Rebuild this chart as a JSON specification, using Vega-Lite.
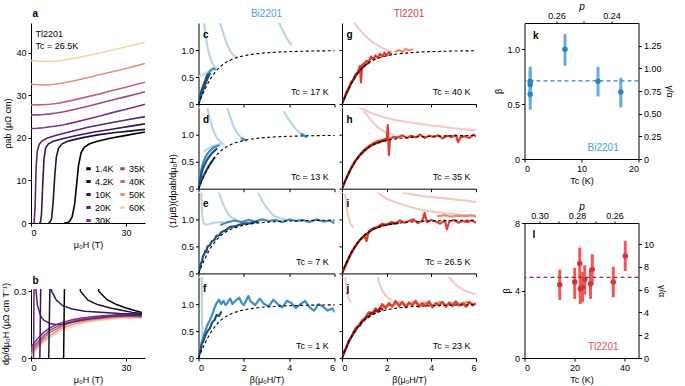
{
"$schema":"https://vega.github.io/schema/vega-lite/v6.json",
"padding":{"left":1,"top":0,"right":2,"bottom":0},
"config":{"font":"Liberation Sans","view":{"stroke":null},
"axis":{"grid":false,"domainColor":"#000","tickColor":"#000","labelColor":"#000","titleColor":"#000","labelFontSize":9,"titleFontSize":9,"titleFontWeight":"normal","tickSize":3,"labelPadding":2,"titlePadding":3,"domainWidth":1,"tickWidth":1},
"text":{"font":"Liberation Sans"},"title":{"font":"Liberation Sans"}},
"datasets":{
"rho":[
{"T":"60K","H":0,"rho":38.2},{"T":"60K","H":2,"rho":38.05},{"T":"60K","H":4,"rho":37.95},{"T":"60K","H":6,"rho":37.95},{"T":"60K","H":8,"rho":38.05},{"T":"60K","H":10,"rho":38.25},{"T":"60K","H":14,"rho":38.75},{"T":"60K","H":18,"rho":39.35},{"T":"60K","H":22,"rho":40.0},{"T":"60K","H":26,"rho":40.7},{"T":"60K","H":30,"rho":41.4},{"T":"60K","H":34,"rho":42.1},{"T":"60K","H":36,"rho":42.5},
{"T":"50K","H":0,"rho":32.6},{"T":"50K","H":2,"rho":32.5},{"T":"50K","H":4,"rho":32.45},{"T":"50K","H":6,"rho":32.5},{"T":"50K","H":8,"rho":32.65},{"T":"50K","H":10,"rho":32.9},{"T":"50K","H":14,"rho":33.5},{"T":"50K","H":18,"rho":34.2},{"T":"50K","H":22,"rho":34.9},{"T":"50K","H":26,"rho":35.6},{"T":"50K","H":30,"rho":36.3},{"T":"50K","H":34,"rho":37.1},{"T":"50K","H":36,"rho":37.5},
{"T":"40K","H":0,"rho":27.8},{"T":"40K","H":2,"rho":27.75},{"T":"40K","H":4,"rho":27.8},{"T":"40K","H":6,"rho":27.9},{"T":"40K","H":8,"rho":28.1},{"T":"40K","H":10,"rho":28.35},{"T":"40K","H":14,"rho":29.0},{"T":"40K","H":18,"rho":29.7},{"T":"40K","H":22,"rho":30.4},{"T":"40K","H":26,"rho":31.2},{"T":"40K","H":30,"rho":31.9},{"T":"40K","H":34,"rho":32.7},{"T":"40K","H":36,"rho":33.1},
{"T":"35K","H":0,"rho":25.4},{"T":"35K","H":2,"rho":25.4},{"T":"35K","H":4,"rho":25.5},{"T":"35K","H":6,"rho":25.65},{"T":"35K","H":8,"rho":25.85},{"T":"35K","H":10,"rho":26.1},{"T":"35K","H":14,"rho":26.75},{"T":"35K","H":18,"rho":27.45},{"T":"35K","H":22,"rho":28.2},{"T":"35K","H":26,"rho":28.95},{"T":"35K","H":30,"rho":29.7},{"T":"35K","H":34,"rho":30.45},{"T":"35K","H":36,"rho":30.85},
{"T":"30K","H":0,"rho":22.2},{"T":"30K","H":2,"rho":22.25},{"T":"30K","H":4,"rho":22.4},{"T":"30K","H":6,"rho":22.6},{"T":"30K","H":8,"rho":22.8},{"T":"30K","H":10,"rho":23.05},{"T":"30K","H":14,"rho":23.7},{"T":"30K","H":18,"rho":24.45},{"T":"30K","H":22,"rho":25.2},{"T":"30K","H":26,"rho":26.0},{"T":"30K","H":30,"rho":26.75},{"T":"30K","H":34,"rho":27.5},{"T":"30K","H":36,"rho":27.9},
{"T":"20K","H":0.8,"rho":0},{"T":"20K","H":1.0,"rho":0.2},{"T":"20K","H":1.3,"rho":4},{"T":"20K","H":1.6,"rho":13},{"T":"20K","H":2.0,"rho":17},{"T":"20K","H":2.6,"rho":18.5},{"T":"20K","H":3.5,"rho":19.3},{"T":"20K","H":5,"rho":19.9},{"T":"20K","H":8,"rho":20.6},{"T":"20K","H":12,"rho":21.4},{"T":"20K","H":18,"rho":22.5},{"T":"20K","H":24,"rho":23.4},{"T":"20K","H":30,"rho":24.2},{"T":"20K","H":36,"rho":25.0},
{"T":"10K","H":2.6,"rho":0},{"T":"10K","H":3.0,"rho":0.2},{"T":"10K","H":3.3,"rho":2},{"T":"10K","H":3.7,"rho":9},{"T":"10K","H":4.1,"rho":15},{"T":"10K","H":4.6,"rho":17.6},{"T":"10K","H":5.5,"rho":18.6},{"T":"10K","H":7,"rho":19.2},{"T":"10K","H":10,"rho":19.8},{"T":"10K","H":14,"rho":20.5},{"T":"10K","H":20,"rho":21.4},{"T":"10K","H":26,"rho":22.1},{"T":"10K","H":31,"rho":22.7},{"T":"10K","H":36,"rho":23.3},
{"T":"4.2K","H":5.5,"rho":0},{"T":"4.2K","H":6.0,"rho":0.2},{"T":"4.2K","H":6.5,"rho":1},{"T":"4.2K","H":7.0,"rho":5},{"T":"4.2K","H":7.5,"rho":11},{"T":"4.2K","H":8.0,"rho":15.5},{"T":"4.2K","H":8.7,"rho":17.6},{"T":"4.2K","H":9.8,"rho":18.6},{"T":"4.2K","H":12,"rho":19.3},{"T":"4.2K","H":16,"rho":20.0},{"T":"4.2K","H":21,"rho":20.7},{"T":"4.2K","H":26,"rho":21.2},{"T":"4.2K","H":31,"rho":21.6},{"T":"4.2K","H":36,"rho":22.0},
{"T":"1.4K","H":10.5,"rho":0},{"T":"1.4K","H":11.5,"rho":0.1},{"T":"1.4K","H":12.3,"rho":0.5},{"T":"1.4K","H":13.0,"rho":1.5},{"T":"1.4K","H":13.8,"rho":4.5},{"T":"1.4K","H":14.4,"rho":9},{"T":"1.4K","H":15.0,"rho":13.5},{"T":"1.4K","H":15.8,"rho":16.5},{"T":"1.4K","H":16.8,"rho":17.8},{"T":"1.4K","H":18.5,"rho":18.6},{"T":"1.4K","H":21,"rho":19.2},{"T":"1.4K","H":25,"rho":19.9},{"T":"1.4K","H":30,"rho":20.6},{"T":"1.4K","H":36,"rho":21.4}
],
"drho":[
{"T":"60K","H":0,"d":0.01},{"T":"60K","H":2,"d":0.04},{"T":"60K","H":4,"d":0.07},{"T":"60K","H":6,"d":0.09},{"T":"60K","H":8,"d":0.11},{"T":"60K","H":10,"d":0.125},{"T":"60K","H":13,"d":0.14},{"T":"60K","H":16,"d":0.155},{"T":"60K","H":20,"d":0.165},{"T":"60K","H":24,"d":0.172},{"T":"60K","H":28,"d":0.178},{"T":"60K","H":32,"d":0.18},{"T":"60K","H":35,"d":0.178},
{"T":"50K","H":0,"d":0.02},{"T":"50K","H":2,"d":0.05},{"T":"50K","H":4,"d":0.08},{"T":"50K","H":6,"d":0.1},{"T":"50K","H":8,"d":0.12},{"T":"50K","H":10,"d":0.135},{"T":"50K","H":13,"d":0.15},{"T":"50K","H":16,"d":0.162},{"T":"50K","H":20,"d":0.172},{"T":"50K","H":24,"d":0.178},{"T":"50K","H":28,"d":0.183},{"T":"50K","H":32,"d":0.185},{"T":"50K","H":35,"d":0.182},
{"T":"40K","H":0,"d":0.03},{"T":"40K","H":2,"d":0.06},{"T":"40K","H":4,"d":0.09},{"T":"40K","H":6,"d":0.115},{"T":"40K","H":8,"d":0.13},{"T":"40K","H":10,"d":0.145},{"T":"40K","H":13,"d":0.16},{"T":"40K","H":16,"d":0.17},{"T":"40K","H":20,"d":0.178},{"T":"40K","H":24,"d":0.184},{"T":"40K","H":28,"d":0.188},{"T":"40K","H":32,"d":0.189},{"T":"40K","H":35,"d":0.186},
{"T":"35K","H":0,"d":0.04},{"T":"35K","H":2,"d":0.07},{"T":"35K","H":4,"d":0.1},{"T":"35K","H":6,"d":0.125},{"T":"35K","H":8,"d":0.14},{"T":"35K","H":10,"d":0.152},{"T":"35K","H":13,"d":0.165},{"T":"35K","H":16,"d":0.175},{"T":"35K","H":20,"d":0.183},{"T":"35K","H":24,"d":0.188},{"T":"35K","H":28,"d":0.192},{"T":"35K","H":32,"d":0.193},{"T":"35K","H":35,"d":0.19},
{"T":"30K","H":0,"d":0.05},{"T":"30K","H":2,"d":0.085},{"T":"30K","H":4,"d":0.115},{"T":"30K","H":6,"d":0.135},{"T":"30K","H":8,"d":0.15},{"T":"30K","H":10,"d":0.16},{"T":"30K","H":13,"d":0.172},{"T":"30K","H":16,"d":0.18},{"T":"30K","H":20,"d":0.187},{"T":"30K","H":24,"d":0.191},{"T":"30K","H":28,"d":0.195},{"T":"30K","H":32,"d":0.196},{"T":"30K","H":35,"d":0.193},
{"T":"20K","H":0.8,"d":0},{"T":"20K","H":1.1,"d":0.6},{"T":"20K","H":1.4,"d":0.6},{"T":"20K","H":1.6,"d":0.3},{"T":"20K","H":2,"d":0.24},{"T":"20K","H":3,"d":0.19},{"T":"20K","H":4,"d":0.17},{"T":"20K","H":6,"d":0.155},{"T":"20K","H":8,"d":0.15},{"T":"20K","H":10,"d":0.152},{"T":"20K","H":13,"d":0.16},{"T":"20K","H":16,"d":0.17},{"T":"20K","H":20,"d":0.178},{"T":"20K","H":25,"d":0.186},{"T":"20K","H":30,"d":0.19},{"T":"20K","H":35,"d":0.19},
{"T":"10K","H":2.8,"d":0},{"T":"10K","H":3.3,"d":0.6},{"T":"10K","H":4.5,"d":0.6},{"T":"10K","H":6.5,"d":0.3},{"T":"10K","H":8,"d":0.26},{"T":"10K","H":10,"d":0.235},{"T":"10K","H":13,"d":0.22},{"T":"10K","H":17,"d":0.21},{"T":"10K","H":22,"d":0.205},{"T":"10K","H":28,"d":0.2},{"T":"10K","H":35,"d":0.197},
{"T":"4.2K","H":5.6,"d":0},{"T":"4.2K","H":6.3,"d":0.6},{"T":"4.2K","H":14,"d":0.6},{"T":"4.2K","H":15.6,"d":0.3},{"T":"4.2K","H":18,"d":0.26},{"T":"4.2K","H":21,"d":0.24},{"T":"4.2K","H":25,"d":0.225},{"T":"4.2K","H":29,"d":0.213},{"T":"4.2K","H":32,"d":0.205},{"T":"4.2K","H":35,"d":0.2},
{"T":"1.4K","H":10.3,"d":0},{"T":"1.4K","H":10.8,"d":0.6},{"T":"1.4K","H":20,"d":0.6},{"T":"1.4K","H":21.4,"d":0.3},{"T":"1.4K","H":24,"d":0.262},{"T":"1.4K","H":27,"d":0.24},{"T":"1.4K","H":30,"d":0.225},{"T":"1.4K","H":33,"d":0.212},{"T":"1.4K","H":35,"d":0.205}
],
"fit":[{"x":0,"y":0},{"x":0.1,"y":0.0995},{"x":0.2,"y":0.196},{"x":0.3,"y":0.287},{"x":0.4,"y":0.371},{"x":0.5,"y":0.447},{"x":0.6,"y":0.514},{"x":0.8,"y":0.625},{"x":1.0,"y":0.707},{"x":1.2,"y":0.768},{"x":1.5,"y":0.832},{"x":1.8,"y":0.874},{"x":2.2,"y":0.91},{"x":2.6,"y":0.933},{"x":3.0,"y":0.949},{"x":3.5,"y":0.962},{"x":4.0,"y":0.97},{"x":4.5,"y":0.976},{"x":5.0,"y":0.981},{"x":5.5,"y":0.984},{"x":6.0,"y":0.986}],
"scal":[
{"panel":"c","s":"l1","sh":"bl","x":0.25,"y":1.5},{"panel":"c","s":"l1","sh":"bl","x":0.32,"y":1.25},{"panel":"c","s":"l1","sh":"bl","x":0.4,"y":1.05},{"panel":"c","s":"l1","sh":"bl","x":0.5,"y":0.88},{"panel":"c","s":"l1","sh":"bl","x":0.62,"y":0.75},{"panel":"c","s":"l1","sh":"bl","x":0.75,"y":0.66},
{"panel":"c","s":"l2","sh":"bl","x":0.95,"y":1.5},{"panel":"c","s":"l2","sh":"bl","x":1.1,"y":1.3},{"panel":"c","s":"l2","sh":"bl","x":1.25,"y":1.12},{"panel":"c","s":"l2","sh":"bl","x":1.4,"y":0.98},{"panel":"c","s":"l2","sh":"bl","x":1.55,"y":0.9},{"panel":"c","s":"l2","sh":"bl","x":1.7,"y":0.86},
{"panel":"c","s":"l3","sh":"bl","x":3.55,"y":1.5},{"panel":"c","s":"l3","sh":"bl","x":3.7,"y":1.38},{"panel":"c","s":"l3","sh":"bl","x":3.85,"y":1.25},{"panel":"c","s":"l3","sh":"bl","x":4.0,"y":1.15},{"panel":"c","s":"l3","sh":"bl","x":4.1,"y":1.1},
{"panel":"c","s":"l4","sh":"bl","x":0.05,"y":0.52},{"panel":"c","s":"l4","sh":"bl","x":0.2,"y":0.55},{"panel":"c","s":"l4","sh":"bl","x":0.35,"y":0.58},{"panel":"c","s":"l4","sh":"bl","x":0.5,"y":0.6},{"panel":"c","s":"l4","sh":"bl","x":0.6,"y":0.62},
{"panel":"c","s":"m1","sh":"bm","x":0.45,"y":0.58},{"panel":"c","s":"m1","sh":"bm","x":0.55,"y":0.63},{"panel":"c","s":"m1","sh":"bm","x":0.65,"y":0.66},{"panel":"c","s":"m1","sh":"bm","x":0.72,"y":0.64},
{"panel":"c","s":"d1","sh":"bd","x":0,"y":0},{"panel":"c","s":"d1","sh":"bd","x":0.05,"y":0.07},{"panel":"c","s":"d1","sh":"bd","x":0.1,"y":0.13},{"panel":"c","s":"d1","sh":"bd","x":0.15,"y":0.2},{"panel":"c","s":"d1","sh":"bd","x":0.2,"y":0.26},{"panel":"c","s":"d1","sh":"bd","x":0.25,"y":0.31},{"panel":"c","s":"d1","sh":"bd","x":0.3,"y":0.37},{"panel":"c","s":"d1","sh":"bd","x":0.35,"y":0.42},{"panel":"c","s":"d1","sh":"bd","x":0.4,"y":0.47},{"panel":"c","s":"d1","sh":"bd","x":0.45,"y":0.52},{"panel":"c","s":"d1","sh":"bd","x":0.5,"y":0.56},
{"panel":"c","s":"d2","sh":"bd","x":0,"y":0.02},{"panel":"c","s":"d2","sh":"bd","x":0.05,"y":0.12},{"panel":"c","s":"d2","sh":"bd","x":0.1,"y":0.2},{"panel":"c","s":"d2","sh":"bd","x":0.15,"y":0.27},{"panel":"c","s":"d2","sh":"bd","x":0.2,"y":0.33},{"panel":"c","s":"d2","sh":"bd","x":0.25,"y":0.38},{"panel":"c","s":"d2","sh":"bd","x":0.3,"y":0.44},{"panel":"c","s":"d2","sh":"bd","x":0.35,"y":0.5},{"panel":"c","s":"d2","sh":"bd","x":0.4,"y":0.55},

{"panel":"d","s":"l1","sh":"bl","x":0.4,"y":1.48},{"panel":"d","s":"l1","sh":"bl","x":0.5,"y":1.3},{"panel":"d","s":"l1","sh":"bl","x":0.62,"y":1.12},{"panel":"d","s":"l1","sh":"bl","x":0.76,"y":0.98},{"panel":"d","s":"l1","sh":"bl","x":0.92,"y":0.88},{"panel":"d","s":"l1","sh":"bl","x":1.1,"y":0.83},
{"panel":"d","s":"l2","sh":"bl","x":1.28,"y":1.48},{"panel":"d","s":"l2","sh":"bl","x":1.42,"y":1.3},{"panel":"d","s":"l2","sh":"bl","x":1.56,"y":1.14},{"panel":"d","s":"l2","sh":"bl","x":1.7,"y":1.03},{"panel":"d","s":"l2","sh":"bl","x":1.85,"y":0.96},{"panel":"d","s":"l2","sh":"bl","x":2.0,"y":0.92},
{"panel":"d","s":"l3","sh":"bl","x":3.78,"y":1.42},{"panel":"d","s":"l3","sh":"bl","x":3.95,"y":1.3},{"panel":"d","s":"l3","sh":"bl","x":4.15,"y":1.18},{"panel":"d","s":"l3","sh":"bl","x":4.35,"y":1.08},{"panel":"d","s":"l3","sh":"bl","x":4.55,"y":1.02},{"panel":"d","s":"l3","sh":"bl","x":4.7,"y":1.0},
{"panel":"d","s":"l4","sh":"bl","x":0.25,"y":0.7},{"panel":"d","s":"l4","sh":"bl","x":0.45,"y":0.75},{"panel":"d","s":"l4","sh":"bl","x":0.65,"y":0.79},{"panel":"d","s":"l4","sh":"bl","x":0.85,"y":0.82},{"panel":"d","s":"l4","sh":"bl","x":1.0,"y":0.83},
{"panel":"d","s":"m1","sh":"bm","x":1.9,"y":0.93},{"panel":"d","s":"m1","sh":"bm","x":2.0,"y":0.91},{"panel":"d","s":"m1","sh":"bm","x":2.1,"y":0.9},
{"panel":"d","s":"m2","sh":"bm","x":4.55,"y":1.01},{"panel":"d","s":"m2","sh":"bm","x":4.65,"y":0.98},{"panel":"d","s":"m2","sh":"bm","x":4.75,"y":0.96},
{"panel":"d","s":"m3","sh":"bm","x":0,"y":0.05},{"panel":"d","s":"m3","sh":"bm","x":0.1,"y":0.3},{"panel":"d","s":"m3","sh":"bm","x":0.2,"y":0.48},{"panel":"d","s":"m3","sh":"bm","x":0.3,"y":0.58},{"panel":"d","s":"m3","sh":"bm","x":0.4,"y":0.65},{"panel":"d","s":"m3","sh":"bm","x":0.5,"y":0.7},{"panel":"d","s":"m3","sh":"bm","x":0.6,"y":0.74},{"panel":"d","s":"m3","sh":"bm","x":0.7,"y":0.77},{"panel":"d","s":"m3","sh":"bm","x":0.8,"y":0.79},{"panel":"d","s":"m3","sh":"bm","x":0.9,"y":0.8},
{"panel":"d","s":"d1","sh":"bd","x":0,"y":0},{"panel":"d","s":"d1","sh":"bd","x":0.05,"y":0.12},{"panel":"d","s":"d1","sh":"bd","x":0.1,"y":0.22},{"panel":"d","s":"d1","sh":"bd","x":0.15,"y":0.31},{"panel":"d","s":"d1","sh":"bd","x":0.2,"y":0.38},{"panel":"d","s":"d1","sh":"bd","x":0.3,"y":0.47},{"panel":"d","s":"d1","sh":"bd","x":0.4,"y":0.55},{"panel":"d","s":"d1","sh":"bd","x":0.5,"y":0.61},{"panel":"d","s":"d1","sh":"bd","x":0.6,"y":0.66},{"panel":"d","s":"d1","sh":"bd","x":0.7,"y":0.7},{"panel":"d","s":"d1","sh":"bd","x":0.8,"y":0.74},
{"panel":"d","s":"d2","sh":"bd","x":0,"y":0},{"panel":"d","s":"d2","sh":"bd","x":0.05,"y":0.06},{"panel":"d","s":"d2","sh":"bd","x":0.1,"y":0.12},{"panel":"d","s":"d2","sh":"bd","x":0.2,"y":0.22},{"panel":"d","s":"d2","sh":"bd","x":0.3,"y":0.3},{"panel":"d","s":"d2","sh":"bd","x":0.4,"y":0.38},{"panel":"d","s":"d2","sh":"bd","x":0.5,"y":0.45},{"panel":"d","s":"d2","sh":"bd","x":0.6,"y":0.51},{"panel":"d","s":"d2","sh":"bd","x":0.7,"y":0.57},

{"panel":"e","s":"l1","sh":"bl","x":0.12,"y":1.5},{"panel":"e","s":"l1","sh":"bl","x":0.14,"y":1.25},{"panel":"e","s":"l1","sh":"bl","x":0.17,"y":1.05},{"panel":"e","s":"l1","sh":"bl","x":0.23,"y":0.93},{"panel":"e","s":"l1","sh":"bl","x":0.33,"y":0.9},{"panel":"e","s":"l1","sh":"bl","x":0.5,"y":0.92},{"panel":"e","s":"l1","sh":"bl","x":0.7,"y":0.94},{"panel":"e","s":"l1","sh":"bl","x":0.9,"y":0.95},{"panel":"e","s":"l1","sh":"bl","x":1.1,"y":0.95},
{"panel":"e","s":"l2","sh":"bl","x":0.9,"y":1.5},{"panel":"e","s":"l2","sh":"bl","x":1.05,"y":1.32},{"panel":"e","s":"l2","sh":"bl","x":1.2,"y":1.18},{"panel":"e","s":"l2","sh":"bl","x":1.35,"y":1.08},{"panel":"e","s":"l2","sh":"bl","x":1.5,"y":1.02},{"panel":"e","s":"l2","sh":"bl","x":1.7,"y":0.99},
{"panel":"e","s":"l3","sh":"bl","x":2.65,"y":1.48},{"panel":"e","s":"l3","sh":"bl","x":2.8,"y":1.35},{"panel":"e","s":"l3","sh":"bl","x":3.0,"y":1.22},{"panel":"e","s":"l3","sh":"bl","x":3.2,"y":1.12},{"panel":"e","s":"l3","sh":"bl","x":3.4,"y":1.05},{"panel":"e","s":"l3","sh":"bl","x":3.6,"y":1.02},{"panel":"e","s":"l3","sh":"bl","x":3.8,"y":1.0},
{"panel":"e","s":"m1","sh":"bm","x":1.0,"y":0.9},{"panel":"e","s":"m1","sh":"bm","x":1.3,"y":0.95},{"panel":"e","s":"m1","sh":"bm","x":1.6,"y":0.98},{"panel":"e","s":"m1","sh":"bm","x":1.9,"y":0.95},{"panel":"e","s":"m1","sh":"bm","x":2.2,"y":0.99},{"panel":"e","s":"m1","sh":"bm","x":2.5,"y":0.96},{"panel":"e","s":"m1","sh":"bm","x":2.8,"y":1.0},{"panel":"e","s":"m1","sh":"bm","x":3.1,"y":0.97},{"panel":"e","s":"m1","sh":"bm","x":3.4,"y":0.99},{"panel":"e","s":"m1","sh":"bm","x":3.7,"y":0.95},{"panel":"e","s":"m1","sh":"bm","x":4.0,"y":1.0},{"panel":"e","s":"m1","sh":"bm","x":4.3,"y":0.97},{"panel":"e","s":"m1","sh":"bm","x":4.6,"y":0.99},{"panel":"e","s":"m1","sh":"bm","x":4.9,"y":0.95},{"panel":"e","s":"m1","sh":"bm","x":5.2,"y":1.0},{"panel":"e","s":"m1","sh":"bm","x":5.5,"y":0.96},{"panel":"e","s":"m1","sh":"bm","x":5.8,"y":0.98},{"panel":"e","s":"m1","sh":"bm","x":6.0,"y":0.93},
{"panel":"e","s":"d1","sh":"bd","x":0,"y":0},{"panel":"e","s":"d1","sh":"bd","x":0.05,"y":0.08},{"panel":"e","s":"d1","sh":"bd","x":0.1,"y":0.18},{"panel":"e","s":"d1","sh":"bd","x":0.15,"y":0.22},{"panel":"e","s":"d1","sh":"bd","x":0.2,"y":0.32},{"panel":"e","s":"d1","sh":"bd","x":0.25,"y":0.35},{"panel":"e","s":"d1","sh":"bd","x":0.3,"y":0.42},{"panel":"e","s":"d1","sh":"bd","x":0.35,"y":0.4},{"panel":"e","s":"d1","sh":"bd","x":0.4,"y":0.5},{"panel":"e","s":"d1","sh":"bd","x":0.5,"y":0.52},{"panel":"e","s":"d1","sh":"bd","x":0.6,"y":0.6},{"panel":"e","s":"d1","sh":"bd","x":0.7,"y":0.62},{"panel":"e","s":"d1","sh":"bd","x":0.8,"y":0.7},{"panel":"e","s":"d1","sh":"bd","x":0.9,"y":0.7},{"panel":"e","s":"d1","sh":"bd","x":1.0,"y":0.76},{"panel":"e","s":"d1","sh":"bd","x":1.2,"y":0.8},{"panel":"e","s":"d1","sh":"bd","x":1.4,"y":0.86},{"panel":"e","s":"d1","sh":"bd","x":1.6,"y":0.87},{"panel":"e","s":"d1","sh":"bd","x":1.8,"y":0.9},{"panel":"e","s":"d1","sh":"bd","x":2.0,"y":0.92},{"panel":"e","s":"d1","sh":"bd","x":2.3,"y":0.93},{"panel":"e","s":"d1","sh":"bd","x":2.6,"y":0.96},

{"panel":"f","s":"l1","sh":"bl","x":0.14,"y":1.5},{"panel":"f","s":"l1","sh":"bl","x":0.15,"y":1.0},{"panel":"f","s":"l1","sh":"bl","x":0.16,"y":0.6},{"panel":"f","s":"l1","sh":"bl","x":0.18,"y":0.4},
{"panel":"f","s":"m1","sh":"bm","x":0,"y":0},{"panel":"f","s":"m1","sh":"bm","x":0.1,"y":0.2},{"panel":"f","s":"m1","sh":"bm","x":0.2,"y":0.38},{"panel":"f","s":"m1","sh":"bm","x":0.3,"y":0.5},{"panel":"f","s":"m1","sh":"bm","x":0.4,"y":0.62},{"panel":"f","s":"m1","sh":"bm","x":0.5,"y":0.7},{"panel":"f","s":"m1","sh":"bm","x":0.6,"y":0.8},{"panel":"f","s":"m1","sh":"bm","x":0.7,"y":0.92},{"panel":"f","s":"m1","sh":"bm","x":0.8,"y":1.02},{"panel":"f","s":"m1","sh":"bm","x":0.9,"y":1.08},{"panel":"f","s":"m1","sh":"bm","x":1.0,"y":1.0},{"panel":"f","s":"m1","sh":"bm","x":1.1,"y":1.06},{"panel":"f","s":"m1","sh":"bm","x":1.2,"y":0.98},{"panel":"f","s":"m1","sh":"bm","x":1.3,"y":1.04},{"panel":"f","s":"m1","sh":"bm","x":1.4,"y":1.1},{"panel":"f","s":"m1","sh":"bm","x":1.5,"y":1.0},{"panel":"f","s":"m1","sh":"bm","x":1.6,"y":1.05},{"panel":"f","s":"m1","sh":"bm","x":1.8,"y":1.12},{"panel":"f","s":"m1","sh":"bm","x":1.9,"y":1.02},{"panel":"f","s":"m1","sh":"bm","x":2.0,"y":0.98},{"panel":"f","s":"m1","sh":"bm","x":2.2,"y":1.15},{"panel":"f","s":"m1","sh":"bm","x":2.3,"y":1.05},{"panel":"f","s":"m1","sh":"bm","x":2.5,"y":0.98},{"panel":"f","s":"m1","sh":"bm","x":2.7,"y":1.1},{"panel":"f","s":"m1","sh":"bm","x":2.9,"y":1.0},{"panel":"f","s":"m1","sh":"bm","x":3.1,"y":0.96},{"panel":"f","s":"m1","sh":"bm","x":3.3,"y":1.08},{"panel":"f","s":"m1","sh":"bm","x":3.5,"y":1.0},{"panel":"f","s":"m1","sh":"bm","x":3.7,"y":0.94},{"panel":"f","s":"m1","sh":"bm","x":3.9,"y":1.06},{"panel":"f","s":"m1","sh":"bm","x":4.1,"y":1.02},{"panel":"f","s":"m1","sh":"bm","x":4.3,"y":0.93},{"panel":"f","s":"m1","sh":"bm","x":4.5,"y":1.0},{"panel":"f","s":"m1","sh":"bm","x":4.7,"y":1.06},{"panel":"f","s":"m1","sh":"bm","x":4.9,"y":0.94},{"panel":"f","s":"m1","sh":"bm","x":5.1,"y":0.88},{"panel":"f","s":"m1","sh":"bm","x":5.3,"y":1.0},{"panel":"f","s":"m1","sh":"bm","x":5.5,"y":0.95},{"panel":"f","s":"m1","sh":"bm","x":5.7,"y":0.88},{"panel":"f","s":"m1","sh":"bm","x":5.9,"y":0.92},{"panel":"f","s":"m1","sh":"bm","x":6.0,"y":0.86},
{"panel":"f","s":"d1","sh":"bd","x":0,"y":0},{"panel":"f","s":"d1","sh":"bd","x":0.05,"y":0.1},{"panel":"f","s":"d1","sh":"bd","x":0.1,"y":0.16},{"panel":"f","s":"d1","sh":"bd","x":0.15,"y":0.28},{"panel":"f","s":"d1","sh":"bd","x":0.2,"y":0.3},{"panel":"f","s":"d1","sh":"bd","x":0.3,"y":0.42},{"panel":"f","s":"d1","sh":"bd","x":0.4,"y":0.5},{"panel":"f","s":"d1","sh":"bd","x":0.5,"y":0.55},{"panel":"f","s":"d1","sh":"bd","x":0.6,"y":0.66},{"panel":"f","s":"d1","sh":"bd","x":0.7,"y":0.7},{"panel":"f","s":"d1","sh":"bd","x":0.8,"y":0.8},{"panel":"f","s":"d1","sh":"bd","x":0.9,"y":0.78},{"panel":"f","s":"d1","sh":"bd","x":1.0,"y":0.85},

{"panel":"g","s":"l1","sh":"rl","x":0.55,"y":1.5},{"panel":"g","s":"l1","sh":"rl","x":0.75,"y":1.4},{"panel":"g","s":"l1","sh":"rl","x":0.95,"y":1.3},{"panel":"g","s":"l1","sh":"rl","x":1.15,"y":1.22},{"panel":"g","s":"l1","sh":"rl","x":1.35,"y":1.15},{"panel":"g","s":"l1","sh":"rl","x":1.55,"y":1.1},{"panel":"g","s":"l1","sh":"rl","x":1.75,"y":1.05},{"panel":"g","s":"l1","sh":"rl","x":2.0,"y":1.0},{"panel":"g","s":"l1","sh":"rl","x":2.2,"y":0.98},
{"panel":"g","s":"o1","sh":"ro","x":2.4,"y":0.97},{"panel":"g","s":"o1","sh":"ro","x":2.55,"y":1.0},{"panel":"g","s":"o1","sh":"ro","x":2.7,"y":0.96},{"panel":"g","s":"o1","sh":"ro","x":2.85,"y":1.02},{"panel":"g","s":"o1","sh":"ro","x":3.0,"y":0.99},{"panel":"g","s":"o1","sh":"ro","x":3.15,"y":1.01},
{"panel":"g","s":"m1","sh":"rm","x":0.1,"y":0.1},{"panel":"g","s":"m1","sh":"rm","x":0.2,"y":0.22},{"panel":"g","s":"m1","sh":"rm","x":0.3,"y":0.3},{"panel":"g","s":"m1","sh":"rm","x":0.4,"y":0.4},{"panel":"g","s":"m1","sh":"rm","x":0.5,"y":0.45},{"panel":"g","s":"m1","sh":"rm","x":0.6,"y":0.55},{"panel":"g","s":"m1","sh":"rm","x":0.7,"y":0.58},{"panel":"g","s":"m1","sh":"rm","x":0.8,"y":0.7},{"panel":"g","s":"m1","sh":"rm","x":0.85,"y":0.4},{"panel":"g","s":"m1","sh":"rm","x":0.9,"y":0.72},{"panel":"g","s":"m1","sh":"rm","x":1.0,"y":0.75},{"panel":"g","s":"m1","sh":"rm","x":1.1,"y":0.8},{"panel":"g","s":"m1","sh":"rm","x":1.2,"y":0.78},{"panel":"g","s":"m1","sh":"rm","x":1.3,"y":0.88},{"panel":"g","s":"m1","sh":"rm","x":1.4,"y":0.82},{"panel":"g","s":"m1","sh":"rm","x":1.5,"y":0.9},{"panel":"g","s":"m1","sh":"rm","x":1.6,"y":0.85},{"panel":"g","s":"m1","sh":"rm","x":1.7,"y":0.93},{"panel":"g","s":"m1","sh":"rm","x":1.8,"y":0.88},{"panel":"g","s":"m1","sh":"rm","x":1.9,"y":0.95},{"panel":"g","s":"m1","sh":"rm","x":2.0,"y":0.9},{"panel":"g","s":"m1","sh":"rm","x":2.1,"y":0.96},{"panel":"g","s":"m1","sh":"rm","x":2.2,"y":0.93},
{"panel":"g","s":"d1","sh":"rd","x":0,"y":0},{"panel":"g","s":"d1","sh":"rd","x":0.1,"y":0.1},{"panel":"g","s":"d1","sh":"rd","x":0.2,"y":0.2},{"panel":"g","s":"d1","sh":"rd","x":0.3,"y":0.28},{"panel":"g","s":"d1","sh":"rd","x":0.4,"y":0.37},{"panel":"g","s":"d1","sh":"rd","x":0.5,"y":0.44},{"panel":"g","s":"d1","sh":"rd","x":0.6,"y":0.51},{"panel":"g","s":"d1","sh":"rd","x":0.7,"y":0.57},{"panel":"g","s":"d1","sh":"rd","x":0.8,"y":0.62},{"panel":"g","s":"d1","sh":"rd","x":0.9,"y":0.67},{"panel":"g","s":"d1","sh":"rd","x":1.0,"y":0.7},{"panel":"g","s":"d1","sh":"rd","x":1.1,"y":0.74},{"panel":"g","s":"d1","sh":"rd","x":1.2,"y":0.76},

{"panel":"h","s":"l1","sh":"rl","x":0.8,"y":1.5},{"panel":"h","s":"l1","sh":"rl","x":1.2,"y":1.42},{"panel":"h","s":"l1","sh":"rl","x":1.6,"y":1.36},{"panel":"h","s":"l1","sh":"rl","x":2.0,"y":1.31},{"panel":"h","s":"l1","sh":"rl","x":2.5,"y":1.26},{"panel":"h","s":"l1","sh":"rl","x":3.0,"y":1.23},{"panel":"h","s":"l1","sh":"rl","x":3.5,"y":1.2},{"panel":"h","s":"l1","sh":"rl","x":4.0,"y":1.17},{"panel":"h","s":"l1","sh":"rl","x":4.5,"y":1.15},{"panel":"h","s":"l1","sh":"rl","x":5.0,"y":1.12},{"panel":"h","s":"l1","sh":"rl","x":5.5,"y":1.1},{"panel":"h","s":"l1","sh":"rl","x":6.0,"y":1.08},
{"panel":"h","s":"l2","sh":"rl","x":1.0,"y":1.42},{"panel":"h","s":"l2","sh":"rl","x":1.2,"y":1.32},{"panel":"h","s":"l2","sh":"rl","x":1.4,"y":1.22},{"panel":"h","s":"l2","sh":"rl","x":1.6,"y":1.14},{"panel":"h","s":"l2","sh":"rl","x":1.8,"y":1.08},{"panel":"h","s":"l2","sh":"rl","x":2.0,"y":1.04},{"panel":"h","s":"l2","sh":"rl","x":2.3,"y":1.0},
{"panel":"h","s":"m1","sh":"rm","x":0,"y":0},{"panel":"h","s":"m1","sh":"rm","x":0.2,"y":0.2},{"panel":"h","s":"m1","sh":"rm","x":0.4,"y":0.38},{"panel":"h","s":"m1","sh":"rm","x":0.6,"y":0.52},{"panel":"h","s":"m1","sh":"rm","x":0.8,"y":0.63},{"panel":"h","s":"m1","sh":"rm","x":1.0,"y":0.72},{"panel":"h","s":"m1","sh":"rm","x":1.2,"y":0.79},{"panel":"h","s":"m1","sh":"rm","x":1.4,"y":0.84},{"panel":"h","s":"m1","sh":"rm","x":1.6,"y":0.88},{"panel":"h","s":"m1","sh":"rm","x":1.8,"y":0.9},{"panel":"h","s":"m1","sh":"rm","x":2.0,"y":0.93},{"panel":"h","s":"m1","sh":"rm","x":2.05,"y":1.18},{"panel":"h","s":"m1","sh":"rm","x":2.1,"y":0.62},{"panel":"h","s":"m1","sh":"rm","x":2.15,"y":0.92},{"panel":"h","s":"m1","sh":"rm","x":2.3,"y":0.96},{"panel":"h","s":"m1","sh":"rm","x":2.5,"y":0.95},{"panel":"h","s":"m1","sh":"rm","x":2.7,"y":0.99},{"panel":"h","s":"m1","sh":"rm","x":2.9,"y":0.94},{"panel":"h","s":"m1","sh":"rm","x":3.1,"y":0.98},{"panel":"h","s":"m1","sh":"rm","x":3.3,"y":0.95},{"panel":"h","s":"m1","sh":"rm","x":3.5,"y":1.0},{"panel":"h","s":"m1","sh":"rm","x":3.7,"y":0.94},{"panel":"h","s":"m1","sh":"rm","x":3.9,"y":0.98},{"panel":"h","s":"m1","sh":"rm","x":4.1,"y":0.96},{"panel":"h","s":"m1","sh":"rm","x":4.3,"y":0.99},{"panel":"h","s":"m1","sh":"rm","x":4.5,"y":0.93},{"panel":"h","s":"m1","sh":"rm","x":4.7,"y":0.98},{"panel":"h","s":"m1","sh":"rm","x":4.9,"y":0.96},{"panel":"h","s":"m1","sh":"rm","x":5.1,"y":0.99},{"panel":"h","s":"m1","sh":"rm","x":5.2,"y":0.86},{"panel":"h","s":"m1","sh":"rm","x":5.3,"y":0.95},{"panel":"h","s":"m1","sh":"rm","x":5.5,"y":0.97},{"panel":"h","s":"m1","sh":"rm","x":5.7,"y":0.94},{"panel":"h","s":"m1","sh":"rm","x":5.9,"y":1.0},{"panel":"h","s":"m1","sh":"rm","x":6.0,"y":0.97},
{"panel":"h","s":"d1","sh":"rd","x":0,"y":0},{"panel":"h","s":"d1","sh":"rd","x":0.2,"y":0.2},{"panel":"h","s":"d1","sh":"rd","x":0.4,"y":0.37},{"panel":"h","s":"d1","sh":"rd","x":0.6,"y":0.51},{"panel":"h","s":"d1","sh":"rd","x":0.8,"y":0.62},{"panel":"h","s":"d1","sh":"rd","x":1.0,"y":0.7},{"panel":"h","s":"d1","sh":"rd","x":1.2,"y":0.77},{"panel":"h","s":"d1","sh":"rd","x":1.4,"y":0.82},{"panel":"h","s":"d1","sh":"rd","x":1.6,"y":0.85},{"panel":"h","s":"d1","sh":"rd","x":1.8,"y":0.88},{"panel":"h","s":"d1","sh":"rd","x":2.0,"y":0.9},

{"panel":"i","s":"l1","sh":"rl","x":0.15,"y":1.45},{"panel":"i","s":"l1","sh":"rl","x":0.2,"y":1.25},{"panel":"i","s":"l1","sh":"rl","x":0.28,"y":1.05},{"panel":"i","s":"l1","sh":"rl","x":0.38,"y":0.92},{"panel":"i","s":"l1","sh":"rl","x":0.5,"y":0.86},
{"panel":"i","s":"l2","sh":"rl","x":1.6,"y":1.5},{"panel":"i","s":"l2","sh":"rl","x":2.0,"y":1.38},{"panel":"i","s":"l2","sh":"rl","x":2.5,"y":1.3},{"panel":"i","s":"l2","sh":"rl","x":3.0,"y":1.24},{"panel":"i","s":"l2","sh":"rl","x":3.5,"y":1.18},{"panel":"i","s":"l2","sh":"rl","x":4.0,"y":1.15},{"panel":"i","s":"l2","sh":"rl","x":4.5,"y":1.12},{"panel":"i","s":"l2","sh":"rl","x":5.0,"y":1.1},{"panel":"i","s":"l2","sh":"rl","x":5.5,"y":1.08},{"panel":"i","s":"l2","sh":"rl","x":6.0,"y":1.05},
{"panel":"i","s":"l3","sh":"rl","x":2.7,"y":1.5},{"panel":"i","s":"l3","sh":"rl","x":3.2,"y":1.46},{"panel":"i","s":"l3","sh":"rl","x":3.8,"y":1.42},{"panel":"i","s":"l3","sh":"rl","x":4.4,"y":1.4},{"panel":"i","s":"l3","sh":"rl","x":5.0,"y":1.37},{"panel":"i","s":"l3","sh":"rl","x":5.5,"y":1.35},{"panel":"i","s":"l3","sh":"rl","x":6.0,"y":1.32},
{"panel":"i","s":"o1","sh":"ro","x":4.3,"y":1.06},{"panel":"i","s":"o1","sh":"ro","x":4.6,"y":1.08},{"panel":"i","s":"o1","sh":"ro","x":4.9,"y":1.05},{"panel":"i","s":"o1","sh":"ro","x":5.2,"y":1.07},{"panel":"i","s":"o1","sh":"ro","x":5.5,"y":1.06},{"panel":"i","s":"o1","sh":"ro","x":5.8,"y":1.08},{"panel":"i","s":"o1","sh":"ro","x":6.0,"y":1.06},
{"panel":"i","s":"m1","sh":"rm","x":0,"y":0},{"panel":"i","s":"m1","sh":"rm","x":0.2,"y":0.18},{"panel":"i","s":"m1","sh":"rm","x":0.4,"y":0.36},{"panel":"i","s":"m1","sh":"rm","x":0.6,"y":0.5},{"panel":"i","s":"m1","sh":"rm","x":0.8,"y":0.62},{"panel":"i","s":"m1","sh":"rm","x":1.0,"y":0.7},{"panel":"i","s":"m1","sh":"rm","x":1.1,"y":0.6},{"panel":"i","s":"m1","sh":"rm","x":1.2,"y":0.78},{"panel":"i","s":"m1","sh":"rm","x":1.4,"y":0.84},{"panel":"i","s":"m1","sh":"rm","x":1.6,"y":0.86},{"panel":"i","s":"m1","sh":"rm","x":1.8,"y":0.92},{"panel":"i","s":"m1","sh":"rm","x":2.0,"y":0.9},{"panel":"i","s":"m1","sh":"rm","x":2.2,"y":0.95},{"panel":"i","s":"m1","sh":"rm","x":2.4,"y":0.93},{"panel":"i","s":"m1","sh":"rm","x":2.6,"y":0.98},{"panel":"i","s":"m1","sh":"rm","x":2.8,"y":0.94},{"panel":"i","s":"m1","sh":"rm","x":3.0,"y":0.97},{"panel":"i","s":"m1","sh":"rm","x":3.2,"y":1.0},{"panel":"i","s":"m1","sh":"rm","x":3.4,"y":0.93},{"panel":"i","s":"m1","sh":"rm","x":3.6,"y":0.98},{"panel":"i","s":"m1","sh":"rm","x":3.7,"y":1.12},{"panel":"i","s":"m1","sh":"rm","x":3.8,"y":0.95},{"panel":"i","s":"m1","sh":"rm","x":4.0,"y":0.99},{"panel":"i","s":"m1","sh":"rm","x":4.2,"y":0.96},{"panel":"i","s":"m1","sh":"rm","x":4.4,"y":0.92},{"panel":"i","s":"m1","sh":"rm","x":4.6,"y":0.98},{"panel":"i","s":"m1","sh":"rm","x":4.7,"y":0.82},{"panel":"i","s":"m1","sh":"rm","x":4.8,"y":0.96},{"panel":"i","s":"m1","sh":"rm","x":5.0,"y":0.99},{"panel":"i","s":"m1","sh":"rm","x":5.2,"y":0.94},{"panel":"i","s":"m1","sh":"rm","x":5.4,"y":0.97},{"panel":"i","s":"m1","sh":"rm","x":5.6,"y":0.95},{"panel":"i","s":"m1","sh":"rm","x":5.8,"y":0.98},{"panel":"i","s":"m1","sh":"rm","x":6.0,"y":0.94},
{"panel":"i","s":"d1","sh":"rd","x":0,"y":0},{"panel":"i","s":"d1","sh":"rd","x":0.2,"y":0.2},{"panel":"i","s":"d1","sh":"rd","x":0.4,"y":0.37},{"panel":"i","s":"d1","sh":"rd","x":0.6,"y":0.51},{"panel":"i","s":"d1","sh":"rd","x":0.8,"y":0.62},{"panel":"i","s":"d1","sh":"rd","x":1.0,"y":0.7},{"panel":"i","s":"d1","sh":"rd","x":1.2,"y":0.76},{"panel":"i","s":"d1","sh":"rd","x":1.4,"y":0.83},{"panel":"i","s":"d1","sh":"rd","x":1.6,"y":0.85},{"panel":"i","s":"d1","sh":"rd","x":1.8,"y":0.89},{"panel":"i","s":"d1","sh":"rd","x":2.0,"y":0.9},{"panel":"i","s":"d1","sh":"rd","x":2.2,"y":0.92},{"panel":"i","s":"d1","sh":"rd","x":2.5,"y":0.93},

{"panel":"j","s":"l1","sh":"rl","x":0.15,"y":1.5},{"panel":"j","s":"l1","sh":"rl","x":0.2,"y":1.3},{"panel":"j","s":"l1","sh":"rl","x":0.28,"y":1.12},{"panel":"j","s":"l1","sh":"rl","x":0.38,"y":1.04},
{"panel":"j","s":"l2","sh":"rl","x":1.6,"y":1.5},{"panel":"j","s":"l2","sh":"rl","x":1.7,"y":1.35},{"panel":"j","s":"l2","sh":"rl","x":1.85,"y":1.22},{"panel":"j","s":"l2","sh":"rl","x":2.0,"y":1.13},{"panel":"j","s":"l2","sh":"rl","x":2.2,"y":1.08},
{"panel":"j","s":"l3","sh":"rl","x":4.8,"y":1.5},{"panel":"j","s":"l3","sh":"rl","x":5.0,"y":1.4},{"panel":"j","s":"l3","sh":"rl","x":5.2,"y":1.32},{"panel":"j","s":"l3","sh":"rl","x":5.5,"y":1.25},{"panel":"j","s":"l3","sh":"rl","x":5.8,"y":1.2},{"panel":"j","s":"l3","sh":"rl","x":6.0,"y":1.18},
{"panel":"j","s":"o1","sh":"ro","x":0.5,"y":0.48},{"panel":"j","s":"o1","sh":"ro","x":0.8,"y":0.62},{"panel":"j","s":"o1","sh":"ro","x":1.1,"y":0.76},{"panel":"j","s":"o1","sh":"ro","x":1.4,"y":0.86},{"panel":"j","s":"o1","sh":"ro","x":1.7,"y":0.9},{"panel":"j","s":"o1","sh":"ro","x":2.0,"y":0.97},{"panel":"j","s":"o1","sh":"ro","x":2.3,"y":0.99},{"panel":"j","s":"o1","sh":"ro","x":2.6,"y":1.03},{"panel":"j","s":"o1","sh":"ro","x":2.9,"y":0.98},{"panel":"j","s":"o1","sh":"ro","x":3.2,"y":1.04},{"panel":"j","s":"o1","sh":"ro","x":3.5,"y":0.99},{"panel":"j","s":"o1","sh":"ro","x":3.8,"y":1.03},{"panel":"j","s":"o1","sh":"ro","x":4.1,"y":0.97},{"panel":"j","s":"o1","sh":"ro","x":4.4,"y":1.04},{"panel":"j","s":"o1","sh":"ro","x":4.7,"y":0.98},{"panel":"j","s":"o1","sh":"ro","x":5.0,"y":1.03},{"panel":"j","s":"o1","sh":"ro","x":5.3,"y":0.99},{"panel":"j","s":"o1","sh":"ro","x":5.6,"y":1.04},{"panel":"j","s":"o1","sh":"ro","x":5.9,"y":1.0},
{"panel":"j","s":"m1","sh":"rm","x":0,"y":0},{"panel":"j","s":"m1","sh":"rm","x":0.15,"y":0.15},{"panel":"j","s":"m1","sh":"rm","x":0.3,"y":0.3},{"panel":"j","s":"m1","sh":"rm","x":0.45,"y":0.42},{"panel":"j","s":"m1","sh":"rm","x":0.6,"y":0.55},{"panel":"j","s":"m1","sh":"rm","x":0.75,"y":0.6},{"panel":"j","s":"m1","sh":"rm","x":0.9,"y":0.7},{"panel":"j","s":"m1","sh":"rm","x":1.05,"y":0.75},{"panel":"j","s":"m1","sh":"rm","x":1.2,"y":0.85},{"panel":"j","s":"m1","sh":"rm","x":1.35,"y":0.82},{"panel":"j","s":"m1","sh":"rm","x":1.5,"y":0.92},{"panel":"j","s":"m1","sh":"rm","x":1.65,"y":0.88},{"panel":"j","s":"m1","sh":"rm","x":1.8,"y":1.0},{"panel":"j","s":"m1","sh":"rm","x":1.95,"y":0.92},{"panel":"j","s":"m1","sh":"rm","x":2.1,"y":1.02},{"panel":"j","s":"m1","sh":"rm","x":2.25,"y":0.95},{"panel":"j","s":"m1","sh":"rm","x":2.4,"y":1.06},{"panel":"j","s":"m1","sh":"rm","x":2.55,"y":0.96},{"panel":"j","s":"m1","sh":"rm","x":2.7,"y":1.04},{"panel":"j","s":"m1","sh":"rm","x":2.85,"y":0.94},{"panel":"j","s":"m1","sh":"rm","x":3.0,"y":1.03},{"panel":"j","s":"m1","sh":"rm","x":3.15,"y":0.97},{"panel":"j","s":"m1","sh":"rm","x":3.3,"y":1.06},{"panel":"j","s":"m1","sh":"rm","x":3.45,"y":0.95},{"panel":"j","s":"m1","sh":"rm","x":3.6,"y":1.02},{"panel":"j","s":"m1","sh":"rm","x":3.75,"y":0.96},{"panel":"j","s":"m1","sh":"rm","x":3.9,"y":1.05},{"panel":"j","s":"m1","sh":"rm","x":4.05,"y":0.94},{"panel":"j","s":"m1","sh":"rm","x":4.2,"y":1.02},{"panel":"j","s":"m1","sh":"rm","x":4.35,"y":0.97},{"panel":"j","s":"m1","sh":"rm","x":4.5,"y":1.04},{"panel":"j","s":"m1","sh":"rm","x":4.65,"y":0.95},{"panel":"j","s":"m1","sh":"rm","x":4.8,"y":1.03},{"panel":"j","s":"m1","sh":"rm","x":4.95,"y":0.96},{"panel":"j","s":"m1","sh":"rm","x":5.1,"y":1.05},{"panel":"j","s":"m1","sh":"rm","x":5.25,"y":0.97},{"panel":"j","s":"m1","sh":"rm","x":5.4,"y":1.02},{"panel":"j","s":"m1","sh":"rm","x":5.55,"y":0.95},{"panel":"j","s":"m1","sh":"rm","x":5.7,"y":1.04},{"panel":"j","s":"m1","sh":"rm","x":5.85,"y":0.98},{"panel":"j","s":"m1","sh":"rm","x":6.0,"y":1.01},
{"panel":"j","s":"d1","sh":"rd","x":0,"y":0},{"panel":"j","s":"d1","sh":"rd","x":0.1,"y":0.12},{"panel":"j","s":"d1","sh":"rd","x":0.2,"y":0.2},{"panel":"j","s":"d1","sh":"rd","x":0.3,"y":0.32},{"panel":"j","s":"d1","sh":"rd","x":0.4,"y":0.38},{"panel":"j","s":"d1","sh":"rd","x":0.5,"y":0.45},{"panel":"j","s":"d1","sh":"rd","x":0.6,"y":0.5},{"panel":"j","s":"d1","sh":"rd","x":0.7,"y":0.58},{"panel":"j","s":"d1","sh":"rd","x":0.8,"y":0.6},{"panel":"j","s":"d1","sh":"rd","x":0.9,"y":0.68},{"panel":"j","s":"d1","sh":"rd","x":1.0,"y":0.7},{"panel":"j","s":"d1","sh":"rd","x":1.1,"y":0.77},{"panel":"j","s":"d1","sh":"rd","x":1.2,"y":0.76},{"panel":"j","s":"d1","sh":"rd","x":1.3,"y":0.84},{"panel":"j","s":"d1","sh":"rd","x":1.4,"y":0.82},{"panel":"j","s":"d1","sh":"rd","x":1.5,"y":0.88},{"panel":"j","s":"d1","sh":"rd","x":1.6,"y":0.86},{"panel":"j","s":"d1","sh":"rd","x":1.7,"y":0.92},{"panel":"j","s":"d1","sh":"rd","x":1.8,"y":0.9}
],
"bi":[
{"Tc":1,"beta":0.71,"lo":0.57,"hi":0.84,"p":0.2695},
{"Tc":1,"beta":0.68,"lo":0.55,"hi":0.81,"p":0.2695},
{"Tc":1,"beta":0.59,"lo":0.45,"hi":0.73,"p":0.2695},
{"Tc":7.1,"beta":1.0,"lo":0.85,"hi":1.14,"p":0.2569},
{"Tc":12.9,"beta":0.71,"lo":0.57,"hi":0.84,"p":0.2449},
{"Tc":16.9,"beta":0.61,"lo":0.47,"hi":0.74,"p":0.2366}
],
"tl":[
{"Tc":14.1,"beta":4.34,"lo":3.44,"hi":5.24,"p":0.2892},
{"Tc":20.1,"beta":4.5,"lo":3.5,"hi":5.35,"p":0.2812},
{"Tc":22.1,"beta":5.6,"lo":4.7,"hi":6.55,"p":0.2785},
{"Tc":22.3,"beta":4.1,"lo":3.2,"hi":5.05,"p":0.2783},
{"Tc":23.2,"beta":4.2,"lo":3.3,"hi":5.1,"p":0.2771},
{"Tc":24.1,"beta":4.65,"lo":3.75,"hi":5.5,"p":0.2759},
{"Tc":26.4,"beta":4.4,"lo":3.5,"hi":5.3,"p":0.2728},
{"Tc":27.1,"beta":5.25,"lo":4.35,"hi":6.15,"p":0.2718},
{"Tc":35.5,"beta":4.5,"lo":3.6,"hi":5.4,"p":0.2606},
{"Tc":40.3,"beta":6.05,"lo":5.15,"hi":6.95,"p":0.2542}
]
},
"spacing":22.5,
"resolve":{"scale":{"color":"independent","strokeWidth":"independent"},"legend":{"color":"independent","strokeWidth":"independent"}},
"hconcat":[
{"bounds":"flush","spacing":66,
 "resolve":{"scale":{"color":"independent"},"legend":{"color":"independent"}},
 "vconcat":[
 {"width":114,"height":200,
  "layer":[
   {"data":{"name":"rho"},"mark":{"type":"line","strokeWidth":1.6,"clip":true},
    "encoding":{
     "x":{"field":"H","type":"quantitative","scale":{"domain":[0,36],"nice":false},"axis":{"values":[0,10,20,30],"title":"μ₀H (T)"}},
     "y":{"field":"rho","type":"quantitative","scale":{"domain":[0,47],"nice":false},"axis":{"values":[0,10,20,30,40],"title":"ρab (μΩ cm)"}},
     "color":{"field":"T","type":"nominal","scale":{"domain":["1.4K","4.2K","10K","20K","30K","35K","40K","50K","60K"],"range":["#000000","#1d1135","#37175d","#5b2379","#7e3283","#a14682","#c4637f","#e0917f","#f3d8a7"]},
      "legend":{"title":null,"orient":"none","legendX":53,"legendY":141,"columns":2,"symbolType":"stroke","symbolStrokeWidth":3,"symbolSize":20,"labelFontSize":9,"rowPadding":0,"columnPadding":0,"labelOffset":2,"symbolOffset":0}}}},
   {"data":{"values":[{}]},"mark":{"type":"text","fontSize":10,"baseline":"middle","opacity":0},"encoding":{"x":{"datum":0.5},"y":{"datum":51.0},"text":{"value":"|"}}},
   {"data":{"values":[{}]},"mark":{"type":"text","fontWeight":"bold","fontSize":10,"align":"left","baseline":"middle"},"encoding":{"x":{"datum":0.5},"y":{"datum":49},"text":{"value":"a"}}},
   {"data":{"values":[{}]},"mark":{"type":"text","fontSize":9,"align":"left","baseline":"middle"},"encoding":{"x":{"datum":1.4},"y":{"datum":44.4},"text":{"value":"Tl2201"}}},
   {"data":{"values":[{}]},"mark":{"type":"text","fontSize":9,"align":"left","baseline":"middle"},"encoding":{"x":{"datum":1.4},"y":{"datum":41.6},"text":{"value":"Tc = 26.5K"}}}
  ]},
 {"width":114,"height":69,
  "layer":[
   {"data":{"name":"drho"},"mark":{"type":"line","strokeWidth":1.5,"clip":true},
    "encoding":{
     "x":{"field":"H","type":"quantitative","scale":{"domain":[0,36],"nice":false},"axis":{"values":[0,10,20,30],"title":"μ₀H (T)"}},
     "y":{"field":"d","type":"quantitative","scale":{"domain":[0,0.31],"nice":false},"axis":{"values":[0,0.1,0.2,0.3],"labelExpr":"datum.value == 0 ? '0' : format(datum.value, '.1f')","title":"dρ/dμ₀H (μΩ cm T⁻¹)"}},
     "color":{"field":"T","type":"nominal","scale":{"domain":["1.4K","4.2K","10K","20K","30K","35K","40K","50K","60K"],"range":["#000000","#1d1135","#37175d","#5b2379","#7e3283","#a14682","#c4637f","#e0917f","#f3d8a7"]},"legend":null}}},
   {"data":{"values":[{}]},"mark":{"type":"text","fontWeight":"bold","fontSize":10,"align":"left","baseline":"middle"},"encoding":{"x":{"datum":0.5},"y":{"datum":0.345},"text":{"value":"b"}}}
  ]}
 ]},
{"spacing":16,
 "resolve":{"scale":{"color":"independent","strokeWidth":"independent"},"legend":{"color":"independent","strokeWidth":"independent"}},
 "hconcat":[
{"spacing":0.5,
 "resolve":{"scale":{"color":"independent","strokeWidth":"independent"},"legend":{"color":"independent","strokeWidth":"independent"}},
 "hconcat":[
  {"bounds":"flush","spacing":3.7,
   "resolve":{"scale":{"color":"independent","strokeWidth":"independent"},"legend":{"color":"independent","strokeWidth":"independent"}},
   "vconcat":[
    {"width":136,"height":81,
     "layer":[
      {"data":{"name":"scal"},"transform":[{"filter":"datum.panel == 'c'"}],"mark":{"type":"line","clip":true,"strokeCap":"round","strokeJoin":"round"},
       "encoding":{"x":{"field":"x","type":"quantitative","scale":{"domain":[0,6],"nice":false},"axis":{"values":[0,2,4,6],"labels":false,"title":null}},
        "y":{"field":"y","type":"quantitative","scale":{"domain":[0,1.5],"nice":false},"axis":{"values":[0,0.5,1],"labelExpr":"datum.value == 0 ? '0' : format(datum.value, '.1f')","title":null}},
        "detail":{"field":"s"},
        "color":{"field":"sh","type":"nominal","scale":{"domain":["bl","bm","bd","rl","ro","rm","rd"],"range":["#bad5e5","#3d8ec3","#1c4f7c","#f3cac6","#f08a6a","#df3d30","#8f1d17"]},"legend":null},
        "strokeWidth":{"field":"sh","type":"ordinal","scale":{"domain":["bl","bm","bd","rl","ro","rm","rd"],"range":[2.2,2.2,3.6,2,2,2,2.8]},"legend":null}}},
      {"data":{"name":"fit"},"mark":{"type":"line","color":"#000","strokeWidth":1.1,"strokeDash":[3,2.5]},"encoding":{"x":{"field":"x","type":"quantitative"},"y":{"field":"y","type":"quantitative"}}},
      {"data":{"values":[{}]},"mark":{"type":"text","fontSize":10,"baseline":"middle","opacity":0},"encoding":{"x":{"datum":1},"y":{"datum":1.815},"text":{"value":"|"}}},
      {"data":{"values":[{}]},"mark":{"type":"text","fontSize":10,"baseline":"middle","align":"center","color":"#4ba6d6"},"encoding":{"x":{"datum":3},"y":{"datum":1.667},"text":{"value":"Bi2201"}}},
      {"data":{"values":[{}]},"mark":{"type":"text","fontWeight":"bold","fontSize":10,"align":"left","baseline":"middle"},"encoding":{"x":{"datum":0.2},"y":{"datum":1.28},"text":{"value":"c"}}},
      {"data":{"values":[{}]},"mark":{"type":"text","fontSize":9,"align":"right","baseline":"middle"},"encoding":{"x":{"datum":5.75},"y":{"datum":0.22},"text":{"value":"Tc = 17 K"}}}
     ]},
    {"width":136,"height":81,
     "layer":[
      {"data":{"name":"scal"},"transform":[{"filter":"datum.panel == 'd'"}],"mark":{"type":"line","clip":true,"strokeCap":"round","strokeJoin":"round"},
       "encoding":{"x":{"field":"x","type":"quantitative","scale":{"domain":[0,6],"nice":false},"axis":{"values":[0,2,4,6],"labels":false,"title":null}},
        "y":{"field":"y","type":"quantitative","scale":{"domain":[0,1.5],"nice":false},"axis":{"values":[0,0.5,1],"labelExpr":"datum.value == 0 ? '0' : format(datum.value, '.1f')","title":"(1/μB)(dρab/dμ₀H)","titleY":83}},
        "detail":{"field":"s"},
        "color":{"field":"sh","type":"nominal","scale":{"domain":["bl","bm","bd","rl","ro","rm","rd"],"range":["#bad5e5","#3d8ec3","#1c4f7c","#f3cac6","#f08a6a","#df3d30","#8f1d17"]},"legend":null},
        "strokeWidth":{"field":"sh","type":"ordinal","scale":{"domain":["bl","bm","bd","rl","ro","rm","rd"],"range":[2.2,2.2,3.6,2,2,2,2.8]},"legend":null}}},
      {"data":{"name":"fit"},"mark":{"type":"line","color":"#000","strokeWidth":1.1,"strokeDash":[3,2.5]},"encoding":{"x":{"field":"x","type":"quantitative"},"y":{"field":"y","type":"quantitative"}}},
      {"data":{"values":[{}]},"mark":{"type":"text","fontWeight":"bold","fontSize":10,"align":"left","baseline":"middle"},"encoding":{"x":{"datum":0.2},"y":{"datum":1.28},"text":{"value":"d"}}},
      {"data":{"values":[{}]},"mark":{"type":"text","fontSize":9,"align":"right","baseline":"middle"},"encoding":{"x":{"datum":5.75},"y":{"datum":0.22},"text":{"value":"Tc = 13 K"}}}
     ]},
    {"width":136,"height":81,
     "layer":[
      {"data":{"name":"scal"},"transform":[{"filter":"datum.panel == 'e'"}],"mark":{"type":"line","clip":true,"strokeCap":"round","strokeJoin":"round"},
       "encoding":{"x":{"field":"x","type":"quantitative","scale":{"domain":[0,6],"nice":false},"axis":{"values":[0,2,4,6],"labels":false,"title":null}},
        "y":{"field":"y","type":"quantitative","scale":{"domain":[0,1.5],"nice":false},"axis":{"values":[0,0.5,1],"labelExpr":"datum.value == 0 ? '0' : format(datum.value, '.1f')","title":null}},
        "detail":{"field":"s"},
        "color":{"field":"sh","type":"nominal","scale":{"domain":["bl","bm","bd","rl","ro","rm","rd"],"range":["#bad5e5","#3d8ec3","#1c4f7c","#f3cac6","#f08a6a","#df3d30","#8f1d17"]},"legend":null},
        "strokeWidth":{"field":"sh","type":"ordinal","scale":{"domain":["bl","bm","bd","rl","ro","rm","rd"],"range":[2.2,2.2,3.6,2,2,2,2.8]},"legend":null}}},
      {"data":{"name":"fit"},"mark":{"type":"line","color":"#000","strokeWidth":1.1,"strokeDash":[3,2.5]},"encoding":{"x":{"field":"x","type":"quantitative"},"y":{"field":"y","type":"quantitative"}}},
      {"data":{"values":[{}]},"mark":{"type":"text","fontWeight":"bold","fontSize":10,"align":"left","baseline":"middle"},"encoding":{"x":{"datum":0.2},"y":{"datum":1.28},"text":{"value":"e"}}},
      {"data":{"values":[{}]},"mark":{"type":"text","fontSize":9,"align":"right","baseline":"middle"},"encoding":{"x":{"datum":5.75},"y":{"datum":0.22},"text":{"value":"Tc = 7 K"}}}
     ]},
    {"width":136,"height":81,
     "layer":[
      {"data":{"name":"scal"},"transform":[{"filter":"datum.panel == 'f'"}],"mark":{"type":"line","clip":true,"strokeCap":"round","strokeJoin":"round"},
       "encoding":{"x":{"field":"x","type":"quantitative","scale":{"domain":[0,6],"nice":false},"axis":{"values":[0,2,4,6],"title":"β(μ₀H/T)"}},
        "y":{"field":"y","type":"quantitative","scale":{"domain":[0,1.5],"nice":false},"axis":{"values":[0,0.5,1],"labelExpr":"datum.value == 0 ? '0' : format(datum.value, '.1f')","title":null}},
        "detail":{"field":"s"},
        "color":{"field":"sh","type":"nominal","scale":{"domain":["bl","bm","bd","rl","ro","rm","rd"],"range":["#bad5e5","#3d8ec3","#1c4f7c","#f3cac6","#f08a6a","#df3d30","#8f1d17"]},"legend":null},
        "strokeWidth":{"field":"sh","type":"ordinal","scale":{"domain":["bl","bm","bd","rl","ro","rm","rd"],"range":[2.2,2.2,3.6,2,2,2,2.8]},"legend":null}}},
      {"data":{"name":"fit"},"mark":{"type":"line","color":"#000","strokeWidth":1.1,"strokeDash":[3,2.5]},"encoding":{"x":{"field":"x","type":"quantitative"},"y":{"field":"y","type":"quantitative"}}},
      {"data":{"values":[{}]},"mark":{"type":"text","fontWeight":"bold","fontSize":10,"align":"left","baseline":"middle"},"encoding":{"x":{"datum":0.2},"y":{"datum":1.28},"text":{"value":"f"}}},
      {"data":{"values":[{}]},"mark":{"type":"text","fontSize":9,"align":"right","baseline":"middle"},"encoding":{"x":{"datum":5.75},"y":{"datum":0.22},"text":{"value":"Tc = 1 K"}}}
     ]}
   ]},
  {"bounds":"flush","spacing":3.7,
   "resolve":{"scale":{"color":"independent","strokeWidth":"independent"},"legend":{"color":"independent","strokeWidth":"independent"}},
   "vconcat":[
    {"width":134,"height":81,
     "layer":[
      {"data":{"name":"scal"},"transform":[{"filter":"datum.panel == 'g'"}],"mark":{"type":"line","clip":true,"strokeCap":"round","strokeJoin":"round"},
       "encoding":{"x":{"field":"x","type":"quantitative","scale":{"domain":[0,6],"nice":false},"axis":{"values":[0,2,4,6],"labels":false,"title":null}},
        "y":{"field":"y","type":"quantitative","scale":{"domain":[0,1.5],"nice":false},"axis":{"values":[0,0.5,1],"labels":false,"title":null}},
        "detail":{"field":"s"},
        "color":{"field":"sh","type":"nominal","scale":{"domain":["bl","bm","bd","rl","ro","rm","rd"],"range":["#bad5e5","#3d8ec3","#1c4f7c","#f3cac6","#f08a6a","#df3d30","#8f1d17"]},"legend":null},
        "strokeWidth":{"field":"sh","type":"ordinal","scale":{"domain":["bl","bm","bd","rl","ro","rm","rd"],"range":[2.2,2.2,3.6,2,2,2,2.8]},"legend":null}}},
      {"data":{"name":"fit"},"mark":{"type":"line","color":"#000","strokeWidth":1.1,"strokeDash":[3,2.5]},"encoding":{"x":{"field":"x","type":"quantitative"},"y":{"field":"y","type":"quantitative"}}},
      {"data":{"values":[{}]},"mark":{"type":"text","fontSize":10,"baseline":"middle","opacity":0},"encoding":{"x":{"datum":1},"y":{"datum":1.815},"text":{"value":"|"}}},
      {"data":{"values":[{}]},"mark":{"type":"text","fontSize":10,"baseline":"middle","align":"center","color":"#d9434f"},"encoding":{"x":{"datum":3},"y":{"datum":1.667},"text":{"value":"Tl2201"}}},
      {"data":{"values":[{}]},"mark":{"type":"text","fontWeight":"bold","fontSize":10,"align":"left","baseline":"middle"},"encoding":{"x":{"datum":0.2},"y":{"datum":1.28},"text":{"value":"g"}}},
      {"data":{"values":[{}]},"mark":{"type":"text","fontSize":9,"align":"right","baseline":"middle"},"encoding":{"x":{"datum":5.75},"y":{"datum":0.22},"text":{"value":"Tc = 40 K"}}}
     ]},
    {"width":134,"height":81,
     "layer":[
      {"data":{"name":"scal"},"transform":[{"filter":"datum.panel == 'h'"}],"mark":{"type":"line","clip":true,"strokeCap":"round","strokeJoin":"round"},
       "encoding":{"x":{"field":"x","type":"quantitative","scale":{"domain":[0,6],"nice":false},"axis":{"values":[0,2,4,6],"labels":false,"title":null}},
        "y":{"field":"y","type":"quantitative","scale":{"domain":[0,1.5],"nice":false},"axis":{"values":[0,0.5,1],"labels":false,"title":null}},
        "detail":{"field":"s"},
        "color":{"field":"sh","type":"nominal","scale":{"domain":["bl","bm","bd","rl","ro","rm","rd"],"range":["#bad5e5","#3d8ec3","#1c4f7c","#f3cac6","#f08a6a","#df3d30","#8f1d17"]},"legend":null},
        "strokeWidth":{"field":"sh","type":"ordinal","scale":{"domain":["bl","bm","bd","rl","ro","rm","rd"],"range":[2.2,2.2,3.6,2,2,2,2.8]},"legend":null}}},
      {"data":{"name":"fit"},"mark":{"type":"line","color":"#000","strokeWidth":1.1,"strokeDash":[3,2.5]},"encoding":{"x":{"field":"x","type":"quantitative"},"y":{"field":"y","type":"quantitative"}}},
      {"data":{"values":[{}]},"mark":{"type":"text","fontWeight":"bold","fontSize":10,"align":"left","baseline":"middle"},"encoding":{"x":{"datum":0.2},"y":{"datum":1.28},"text":{"value":"h"}}},
      {"data":{"values":[{}]},"mark":{"type":"text","fontSize":9,"align":"right","baseline":"middle"},"encoding":{"x":{"datum":5.75},"y":{"datum":0.22},"text":{"value":"Tc = 35 K"}}}
     ]},
    {"width":134,"height":81,
     "layer":[
      {"data":{"name":"scal"},"transform":[{"filter":"datum.panel == 'i'"}],"mark":{"type":"line","clip":true,"strokeCap":"round","strokeJoin":"round"},
       "encoding":{"x":{"field":"x","type":"quantitative","scale":{"domain":[0,6],"nice":false},"axis":{"values":[0,2,4,6],"labels":false,"title":null}},
        "y":{"field":"y","type":"quantitative","scale":{"domain":[0,1.5],"nice":false},"axis":{"values":[0,0.5,1],"labels":false,"title":null}},
        "detail":{"field":"s"},
        "color":{"field":"sh","type":"nominal","scale":{"domain":["bl","bm","bd","rl","ro","rm","rd"],"range":["#bad5e5","#3d8ec3","#1c4f7c","#f3cac6","#f08a6a","#df3d30","#8f1d17"]},"legend":null},
        "strokeWidth":{"field":"sh","type":"ordinal","scale":{"domain":["bl","bm","bd","rl","ro","rm","rd"],"range":[2.2,2.2,3.6,2,2,2,2.8]},"legend":null}}},
      {"data":{"name":"fit"},"mark":{"type":"line","color":"#000","strokeWidth":1.1,"strokeDash":[3,2.5]},"encoding":{"x":{"field":"x","type":"quantitative"},"y":{"field":"y","type":"quantitative"}}},
      {"data":{"values":[{}]},"mark":{"type":"text","fontWeight":"bold","fontSize":10,"align":"left","baseline":"middle"},"encoding":{"x":{"datum":0.2},"y":{"datum":1.28},"text":{"value":"i"}}},
      {"data":{"values":[{}]},"mark":{"type":"text","fontSize":9,"align":"right","baseline":"middle"},"encoding":{"x":{"datum":5.75},"y":{"datum":0.22},"text":{"value":"Tc = 26.5 K"}}}
     ]},
    {"width":134,"height":81,
     "layer":[
      {"data":{"name":"scal"},"transform":[{"filter":"datum.panel == 'j'"}],"mark":{"type":"line","clip":true,"strokeCap":"round","strokeJoin":"round"},
       "encoding":{"x":{"field":"x","type":"quantitative","scale":{"domain":[0,6],"nice":false},"axis":{"values":[0,2,4,6],"title":"β(μ₀H/T)"}},
        "y":{"field":"y","type":"quantitative","scale":{"domain":[0,1.5],"nice":false},"axis":{"values":[0,0.5,1],"labels":false,"title":null}},
        "detail":{"field":"s"},
        "color":{"field":"sh","type":"nominal","scale":{"domain":["bl","bm","bd","rl","ro","rm","rd"],"range":["#bad5e5","#3d8ec3","#1c4f7c","#f3cac6","#f08a6a","#df3d30","#8f1d17"]},"legend":null},
        "strokeWidth":{"field":"sh","type":"ordinal","scale":{"domain":["bl","bm","bd","rl","ro","rm","rd"],"range":[2.2,2.2,3.6,2,2,2,2.8]},"legend":null}}},
      {"data":{"name":"fit"},"mark":{"type":"line","color":"#000","strokeWidth":1.1,"strokeDash":[3,2.5]},"encoding":{"x":{"field":"x","type":"quantitative"},"y":{"field":"y","type":"quantitative"}}},
      {"data":{"values":[{}]},"mark":{"type":"text","fontWeight":"bold","fontSize":10,"align":"left","baseline":"middle"},"encoding":{"x":{"datum":0.2},"y":{"datum":1.28},"text":{"value":"j"}}},
      {"data":{"values":[{}]},"mark":{"type":"text","fontSize":9,"align":"right","baseline":"middle"},"encoding":{"x":{"datum":5.75},"y":{"datum":0.22},"text":{"value":"Tc = 23 K"}}}
     ]}
   ]}
 ]},
{"bounds":"flush","spacing":64,
 "vconcat":[
  {"width":114,"height":136,
   "resolve":{"scale":{"x":"independent","y":"independent"}},
   "layer":[
    {"layer":[
      {"data":{"name":"bi"},"mark":{"type":"rule","strokeWidth":3,"color":"#5fb0dc"},
       "encoding":{"x":{"field":"Tc","type":"quantitative","scale":{"domain":[0,20],"nice":false},"axis":{"values":[0,5,10,15,20],"labelExpr":"datum.value % 10 == 0 ? datum.label : ''","title":"Tc (K)"}},
        "y":{"field":"lo","type":"quantitative","scale":{"domain":[0,1.24],"nice":false},"axis":{"values":[0,0.25,0.5,0.75,1],"labelExpr":"datum.value == 0 ? '0' : (datum.value == 0.5 || datum.value == 1) ? format(datum.value, '.1f') : ''","title":"β"}},
        "y2":{"field":"hi"}}},
      {"data":{"name":"bi"},"mark":{"type":"circle","size":30,"color":"#2a84bd","opacity":1},
       "encoding":{"x":{"field":"Tc","type":"quantitative"},"y":{"field":"beta","type":"quantitative"}}},
      {"data":{"values":[{}]},"mark":{"type":"text","fontSize":10,"baseline":"middle","opacity":0},"encoding":{"x":{"datum":5},"y":{"datum":1.395},"text":{"value":"|"}}},
      {"data":{"values":[{}]},"mark":{"type":"text","fontWeight":"bold","fontSize":10,"align":"left","baseline":"middle"},"encoding":{"x":{"datum":1.5},"y":{"datum":1.12},"text":{"value":"k"}}},
      {"data":{"values":[{}]},"mark":{"type":"text","fontSize":10,"color":"#45a6d6","align":"center","baseline":"middle"},"encoding":{"x":{"datum":13.8},"y":{"datum":0.1},"text":{"value":"Bi2201"}}}
    ]},
    {"data":{"values":[{"g":0.862}]},"mark":{"type":"rule","strokeDash":[4,3],"color":"#3a80b6","strokeWidth":1.2},
     "encoding":{"y":{"field":"g","type":"quantitative","scale":{"domain":[0,1.5],"nice":false},"axis":{"orient":"right","values":[0,0.25,0.5,0.75,1,1.25],"labelExpr":"datum.value == 0 ? '0' : format(datum.value, '.2f')","title":"γ/α"}}}},
    {"data":{"name":"bi"},"mark":{"type":"point","opacity":0},
     "encoding":{"x":{"field":"p","type":"quantitative","scale":{"domain":[0.2302,0.2716],"reverse":true,"nice":false,"zero":false},"axis":{"orient":"top","values":[0.24,0.25,0.26],"labelExpr":"round(datum.value*100) % 2 == 0 ? format(datum.value, '.2f') : ''","tickSize":2,"labelPadding":1,"title":"p","titleFontStyle":"italic","titleFontSize":10,"titleBaseline":"middle","titleY":-17}}}}
   ]},
  {"width":114,"height":135,
   "resolve":{"scale":{"x":"independent","y":"independent"}},
   "layer":[
    {"layer":[
      {"data":{"name":"tl"},"mark":{"type":"rule","strokeWidth":3,"color":"#ec5a5c"},
       "encoding":{"x":{"field":"Tc","type":"quantitative","scale":{"domain":[0,45.6],"nice":false},"axis":{"values":[0,10,20,30,40],"labelExpr":"datum.value % 20 == 0 ? datum.label : ''","title":"Tc (K)"}},
        "y":{"field":"lo","type":"quantitative","scale":{"domain":[0,8],"nice":false},"axis":{"values":[0,2,4,6,8],"title":"β"}},
        "y2":{"field":"hi"}}},
      {"data":{"name":"tl"},"mark":{"type":"circle","size":30,"color":"#d4343a","opacity":1},
       "encoding":{"x":{"field":"Tc","type":"quantitative"},"y":{"field":"beta","type":"quantitative"}}},
      {"data":{"values":[{}]},"mark":{"type":"text","fontWeight":"bold","fontSize":10,"align":"left","baseline":"middle"},"encoding":{"x":{"datum":3.2},"y":{"datum":7.3},"text":{"value":"l"}}},
      {"data":{"values":[{}]},"mark":{"type":"text","fontSize":10,"color":"#e0505c","align":"center","baseline":"middle"},"encoding":{"x":{"datum":31.5},"y":{"datum":0.68},"text":{"value":"Tl2201"}}}
    ]},
    {"data":{"values":[{"g":7.09}]},"mark":{"type":"rule","strokeDash":[4,3],"color":"#a52a2a","strokeWidth":1.2},
     "encoding":{"y":{"field":"g","type":"quantitative","scale":{"domain":[0,11.86],"nice":false},"axis":{"orient":"right","values":[0,2,4,6,8,10],"title":"γ/α"}}}},
    {"data":{"name":"tl"},"mark":{"type":"point","opacity":0},
     "encoding":{"x":{"field":"p","type":"quantitative","scale":{"domain":[0.2472,0.308],"reverse":true,"nice":false,"zero":false},"axis":{"orient":"top","values":[0.26,0.27,0.28,0.29,0.3],"labelExpr":"round(datum.value*100) % 2 == 0 ? format(datum.value, '.2f') : ''","tickSize":2,"labelPadding":1,"title":"p","titleFontStyle":"italic","titleFontSize":10,"titleBaseline":"middle","titleY":-17}}}}
   ]}
 ]}
]}
]
}
